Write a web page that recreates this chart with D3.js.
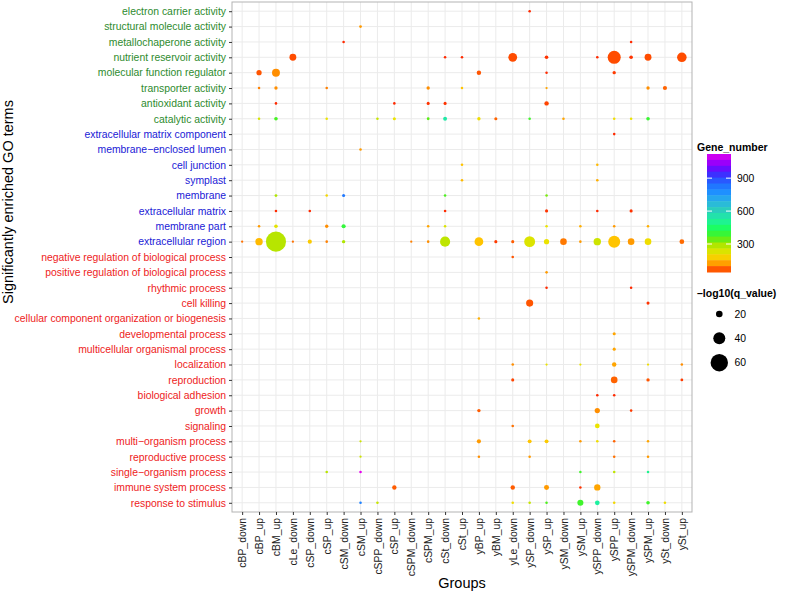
<!DOCTYPE html>
<html>
<head>
  <meta charset="utf-8">
  <title>GO enrichment dot plot</title>
  <script src="https://d3js.org/d3.v7.min.js"></script>
  <style>
    body { margin: 0; background: #fff; }
    text { font-family: "Liberation Sans", Arial, Helvetica, sans-serif; }
  </style>
</head>
<body>
  <svg width="787" height="595"></svg>

  <script>
    // groups on the x axis (label of column 10 reads "cSP_up" in the source)
    var groups = ["cBP_down", "cBP_up", "cBM_up", "cLe_down", "cSP_down", "cSP_up", "cSM_down",
                  "cSM_up", "cSPP_down", "cSP_up", "cSPM_down", "cSPM_up", "cSt_down", "cSt_up",
                  "yBP_up", "yBM_up", "yLe_down", "ySP_down", "ySP_up", "ySM_down", "ySM_up",
                  "ySPP_down", "ySPP_up", "ySPM_down", "ySPM_up", "ySt_down", "ySt_up"];

    var mfTerms = ["electron carrier activity", "structural molecule activity", "metallochaperone activity",
                   "nutrient reservoir activity", "molecular function regulator", "transporter activity",
                   "antioxidant activity", "catalytic activity"];
    var ccTerms = ["extracellular matrix component", "membrane\u2212enclosed lumen", "cell junction", "symplast",
                   "membrane", "extracellular matrix", "membrane part", "extracellular region"];
    var bpTerms = ["negative regulation of biological process", "positive regulation of biological process",
                   "rhythmic process", "cell killing", "cellular component organization or biogenesis",
                   "developmental process", "multicellular organismal process", "localization", "reproduction",
                   "biological adhesion", "growth", "signaling", "multi\u2212organism process", "reproductive process",
                   "single\u2212organism process", "immune system process", "response to stimulus"];

    // [term, group index, gene number, -log10(q)]
    var mfHits = [
      ["electron carrier activity", 17, 45, 5],
      ["structural molecule activity", 7, 120, 6],
      ["metallochaperone activity", 6, 45, 5], ["metallochaperone activity", 23, 45, 5],
      ["nutrient reservoir activity", 3, 65, 21], ["nutrient reservoir activity", 12, 45, 5],
      ["nutrient reservoir activity", 13, 45, 5], ["nutrient reservoir activity", 16, 65, 28],
      ["nutrient reservoir activity", 18, 50, 9], ["nutrient reservoir activity", 21, 45, 5],
      ["nutrient reservoir activity", 22, 65, 44], ["nutrient reservoir activity", 23, 50, 9],
      ["nutrient reservoir activity", 24, 65, 21], ["nutrient reservoir activity", 26, 65, 31],
      ["molecular function regulator", 1, 70, 15], ["molecular function regulator", 2, 110, 25],
      ["molecular function regulator", 14, 70, 12], ["molecular function regulator", 18, 45, 5],
      ["molecular function regulator", 22, 55, 8],
      ["transporter activity", 1, 100, 5], ["transporter activity", 2, 110, 8],
      ["transporter activity", 5, 100, 5], ["transporter activity", 11, 110, 8],
      ["transporter activity", 13, 160, 5], ["transporter activity", 18, 130, 4],
      ["transporter activity", 24, 110, 8], ["transporter activity", 25, 80, 11],
      ["antioxidant activity", 2, 45, 5], ["antioxidant activity", 9, 45, 5],
      ["antioxidant activity", 11, 50, 7], ["antioxidant activity", 12, 50, 7],
      ["antioxidant activity", 18, 60, 12],
      ["catalytic activity", 1, 240, 5], ["catalytic activity", 2, 370, 9], ["catalytic activity", 5, 210, 5],
      ["catalytic activity", 8, 260, 5], ["catalytic activity", 9, 210, 7], ["catalytic activity", 11, 350, 6],
      ["catalytic activity", 12, 540, 10], ["catalytic activity", 14, 200, 8], ["catalytic activity", 15, 80, 7],
      ["catalytic activity", 17, 380, 5], ["catalytic activity", 19, 130, 5], ["catalytic activity", 22, 200, 5],
      ["catalytic activity", 23, 210, 5], ["catalytic activity", 24, 390, 9]
    ];

    var ccHits = [
      ["extracellular matrix component", 22, 45, 5],
      ["membrane\u2212enclosed lumen", 7, 120, 5],
      ["cell junction", 13, 160, 5], ["cell junction", 21, 150, 5],
      ["symplast", 13, 150, 5], ["symplast", 21, 140, 5],
      ["membrane", 2, 290, 6], ["membrane", 5, 190, 5], ["membrane", 6, 820, 7],
      ["membrane", 12, 360, 5], ["membrane", 18, 330, 5],
      ["extracellular matrix", 2, 45, 5], ["extracellular matrix", 4, 45, 5], ["extracellular matrix", 12, 45, 5],
      ["extracellular matrix", 18, 50, 7], ["extracellular matrix", 21, 45, 5], ["extracellular matrix", 23, 50, 7],
      ["membrane part", 1, 120, 5], ["membrane part", 2, 220, 9], ["membrane part", 5, 110, 8],
      ["membrane part", 6, 400, 11], ["membrane part", 11, 130, 5], ["membrane part", 12, 230, 5],
      ["membrane part", 18, 210, 5], ["membrane part", 20, 140, 5], ["membrane part", 22, 120, 5],
      ["membrane part", 24, 140, 5],
      ["extracellular region", 0, 90, 4], ["extracellular region", 1, 150, 23], ["extracellular region", 2, 280, 70],
      ["extracellular region", 3, 90, 4], ["extracellular region", 4, 170, 11], ["extracellular region", 5, 100, 5],
      ["extracellular region", 6, 290, 8], ["extracellular region", 10, 100, 4], ["extracellular region", 11, 110, 5],
      ["extracellular region", 12, 270, 33], ["extracellular region", 14, 160, 28], ["extracellular region", 15, 55, 7],
      ["extracellular region", 16, 75, 7], ["extracellular region", 17, 230, 36], ["extracellular region", 18, 210, 15],
      ["extracellular region", 19, 95, 20], ["extracellular region", 20, 120, 5], ["extracellular region", 21, 250, 23],
      ["extracellular region", 22, 160, 40], ["extracellular region", 23, 120, 20], ["extracellular region", 24, 200, 20],
      ["extracellular region", 26, 85, 13]
    ];

    var bpHits = [
      ["negative regulation of biological process", 16, 70, 5],
      ["positive regulation of biological process", 18, 120, 5],
      ["rhythmic process", 18, 45, 5], ["rhythmic process", 23, 45, 5],
      ["cell killing", 17, 70, 22], ["cell killing", 24, 50, 7],
      ["cellular component organization or biogenesis", 14, 140, 5],
      ["developmental process", 22, 130, 7],
      ["multicellular organismal process", 22, 130, 7],
      ["localization", 16, 110, 5], ["localization", 18, 210, 4], ["localization", 20, 210, 4],
      ["localization", 22, 130, 12], ["localization", 24, 200, 4], ["localization", 26, 110, 5],
      ["reproduction", 16, 60, 7], ["reproduction", 22, 80, 20], ["reproduction", 24, 70, 8],
      ["reproduction", 26, 55, 6],
      ["biological adhesion", 21, 45, 5], ["biological adhesion", 22, 45, 5],
      ["growth", 14, 75, 8], ["growth", 21, 110, 15], ["growth", 23, 55, 5],
      ["signaling", 16, 90, 5], ["signaling", 21, 210, 13],
      ["multi\u2212organism process", 7, 250, 4], ["multi\u2212organism process", 14, 120, 11],
      ["multi\u2212organism process", 17, 160, 10], ["multi\u2212organism process", 18, 170, 10],
      ["multi\u2212organism process", 20, 120, 5], ["multi\u2212organism process", 21, 200, 5],
      ["multi\u2212organism process", 22, 80, 5], ["multi\u2212organism process", 24, 130, 5],
      ["reproductive process", 7, 250, 4], ["reproductive process", 14, 110, 5],
      ["reproductive process", 17, 120, 5], ["reproductive process", 22, 90, 5],
      ["reproductive process", 24, 120, 5],
      ["single\u2212organism process", 5, 280, 5], ["single\u2212organism process", 7, 1120, 5],
      ["single\u2212organism process", 20, 380, 5], ["single\u2212organism process", 22, 270, 5],
      ["single\u2212organism process", 24, 500, 5],
      ["immune system process", 9, 75, 12], ["immune system process", 16, 75, 12],
      ["immune system process", 18, 120, 14], ["immune system process", 20, 50, 5],
      ["immune system process", 21, 130, 19],
      ["response to stimulus", 7, 800, 5], ["response to stimulus", 8, 260, 5],
      ["response to stimulus", 16, 200, 5], ["response to stimulus", 17, 260, 5],
      ["response to stimulus", 18, 360, 5], ["response to stimulus", 20, 380, 18],
      ["response to stimulus", 21, 520, 13], ["response to stimulus", 22, 190, 5],
      ["response to stimulus", 24, 380, 9], ["response to stimulus", 25, 200, 5]
    ];

    var geneTicks = [300, 600, 900];
    var sizeTicks = [20, 40, 60];

    var terms = mfTerms.concat(ccTerms, bpTerms);
    var hits = mfHits.concat(ccHits, bpHits);

    var svg = d3.select("svg"),
        panel = {left: 232, right: 692, top: 2, bottom: 512};

    var x = d3.scalePoint()
        .domain(d3.range(groups.length))
        .range([panel.left, panel.right])
        .padding(0.6);

    var y = d3.scalePoint()
        .domain(terms)
        .range([panel.top, panel.bottom])
        .padding(0.6);

    var geneExtent = d3.extent(hits, function(d) { return d[2]; });

    // rainbow-ish gradient
    var colour = d3.scaleLinear()
        .domain([45, 70, 115, 160, 210, 300, 360, 440, 520, 600, 690, 770, 860, 950, 1010, 1120])
        .range(["#ff2a00", "#ff5500", "#ff9500", "#ffc400", "#ebe300", "#a8e600", "#4cf01c", "#1cff5c",
                "#1ef0a0", "#2ad0b8", "#2ab2e6", "#1e90ff", "#2266ff", "#4422ff", "#8000ff", "#e600ee"])
        .interpolate(d3.interpolateRgb)
        .clamp(true);

    var radius = d3.scaleLinear().domain([0, 60]).range([0.6, 8.7]);

    var termColour = function(t) {
      if (mfTerms.indexOf(t) >= 0) return "#2e8b2e";
      if (ccTerms.indexOf(t) >= 0) return "#1a1ad6";
      return "#ee1c1c";
    };

    // panel + grid
    svg.append("rect")
        .attr("x", panel.left).attr("y", panel.top)
        .attr("width", panel.right - panel.left)
        .attr("height", panel.bottom - panel.top)
        .attr("fill", "#fff");

    svg.append("g").selectAll("line")
        .data(x.domain())
        .enter().append("line")
        .attr("x1", function(d) { return x(d); }).attr("x2", function(d) { return x(d); })
        .attr("y1", panel.top).attr("y2", panel.bottom)
        .attr("stroke", "#ebebeb").attr("stroke-width", 1);

    svg.append("g").selectAll("line")
        .data(terms)
        .enter().append("line")
        .attr("y1", function(d) { return y(d); }).attr("y2", function(d) { return y(d); })
        .attr("x1", panel.left).attr("x2", panel.right)
        .attr("stroke", "#ebebeb").attr("stroke-width", 1);

    // dots
    svg.append("g").selectAll("circle")
        .data(hits)
        .enter().append("circle")
        .attr("cx", function(d) { return x(d[1]); })
        .attr("cy", function(d) { return y(d[0]); })
        .attr("r", function(d) { return radius(d[3]); })
        .attr("fill", function(d) { return colour(d[2]); });

    svg.append("rect")
        .attr("x", panel.left).attr("y", panel.top)
        .attr("width", panel.right - panel.left)
        .attr("height", panel.bottom - panel.top)
        .attr("fill", "none")
        .attr("stroke", "#b3b3b3").attr("stroke-width", 1);

    // axes
    var yAxis = svg.append("g")
        .attr("transform", "translate(" + panel.left + ",0)")
        .call(d3.axisLeft(y).tickSize(3).tickPadding(3));
    yAxis.select(".domain").remove();
    yAxis.selectAll(".tick line").attr("stroke", "#333");
    yAxis.selectAll(".tick text")
        .style("font-size", "10.4px")
        .attr("fill", function(d) { return termColour(d); });

    var xAxis = svg.append("g")
        .attr("transform", "translate(0," + panel.bottom + ")")
        .call(d3.axisBottom(x).tickSize(3).tickFormat(function(i) { return groups[i]; }));
    xAxis.select(".domain").remove();
    xAxis.selectAll(".tick line").attr("stroke", "#333");
    xAxis.selectAll(".tick text")
        .style("font-size", "10.4px")
        .attr("fill", "#222")
        .attr("transform", "rotate(-90)")
        .attr("x", -6).attr("y", 0).attr("dy", "0.35em")
        .style("text-anchor", "end");

    svg.append("text")
        .attr("x", (panel.left + panel.right) / 2)
        .attr("y", 588)
        .attr("text-anchor", "middle")
        .style("font-size", "14.5px")
        .text("Groups");

    // y title sits higher than the panel centre in the source
    svg.append("text")
        .attr("transform", "translate(12.5,202) rotate(-90)")
        .attr("text-anchor", "middle")
        .style("font-size", "14.5px")
        .text("Significantly enriched GO terms");

    // colour legend
    var bar = {x: 707, w: 24, top: 154, bottom: 272};
    var barY = d3.scaleLinear().domain(geneExtent).range([bar.bottom, bar.top]);
    var nbin = 20;
    var legend = svg.append("g");

    legend.append("text")
        .attr("x", 697).attr("y", 151)
        .style("font-size", "10.5px").style("font-weight", "bold")
        .text("Gene_number");

    legend.selectAll("rect.bin")
        .data(d3.range(nbin))
        .enter().append("rect")
        .attr("class", "bin")
        .attr("x", bar.x).attr("width", bar.w)
        .attr("y", function(i) { return bar.top + i * (bar.bottom - bar.top) / nbin; })
        .attr("height", (bar.bottom - bar.top) / nbin + 0.5)
        .attr("fill", function(i) {
          var v = geneExtent[1] - (i + 0.5) / nbin * (geneExtent[1] - geneExtent[0]);
          return colour(v);
        });

    geneTicks.forEach(function(t) {
      legend.append("line")
          .attr("x1", bar.x).attr("x2", bar.x + 5)
          .attr("y1", barY(t)).attr("y2", barY(t))
          .attr("stroke", "#fff");
      legend.append("line")
          .attr("x1", bar.x + bar.w - 5).attr("x2", bar.x + bar.w)
          .attr("y1", barY(t)).attr("y2", barY(t))
          .attr("stroke", "#fff");
      legend.append("text")
          .attr("x", 737).attr("y", barY(t)).attr("dy", "0.35em")
          .style("font-size", "10.4px")
          .text(t);
    });

    // size legend
    legend.append("text")
        .attr("x", 697).attr("y", 297)
        .style("font-size", "10.5px").style("font-weight", "bold")
        .text("\u2013log10(q_value)");

    var sizeY = d3.scalePoint().domain(sizeTicks).range([314, 362.7]);
    sizeTicks.forEach(function(t) {
      legend.append("circle")
          .attr("cx", 719.3).attr("cy", sizeY(t))
          .attr("r", radius(t))
          .attr("fill", "#000");
      legend.append("text")
          .attr("x", 734.5).attr("y", sizeY(t)).attr("dy", "0.35em")
          .style("font-size", "10.4px")
          .text(t);
    });
  </script>
</body>
</html>
